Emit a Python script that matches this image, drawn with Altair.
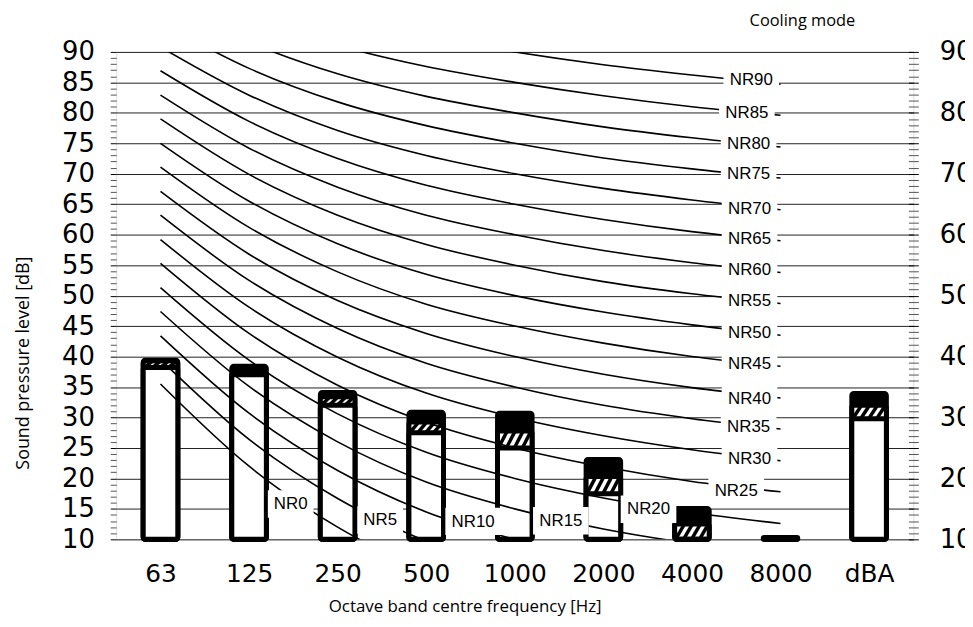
import json
import altair as alt
import pandas as pd

# ---------------- data ----------------
bands = ["63", "125", "250", "500", "1000", "2000", "4000", "8000", "dBA"]
level_max = [39.4, 38.4, 34.1, 30.85, 30.7, 23.1, 15.05, 10.3, 33.95]
level_mid = [39.3, 37.4, 33.4, 29.25, 27.8, 20.3, 12.5, 10.0, 32.0]
level_min = [38.2, 37.0, 32.0, 27.5, 25.0, 17.5, 10.0, 10.0, 29.8]

# NR curves over the octave bands 63 ... 8000 Hz
NR0 = [35.5, 22.0, 12.0, 4.8, 0.0, -3.5, -6.1, -8.0]
NR5 = [39.5, 26.4, 16.7, 9.7, 5.0, 1.6, -1.0, -2.9]
NR10 = [43.4, 30.7, 21.3, 14.5, 10.0, 6.7, 4.2, 2.3]
NR15 = [47.4, 35.1, 26.0, 19.4, 15.0, 11.7, 9.3, 7.5]
NR20 = [51.3, 39.4, 30.6, 24.3, 20.0, 16.8, 14.4, 12.6]
NR25 = [55.3, 43.8, 35.3, 29.2, 25.0, 21.9, 19.5, 17.8]
NR30 = [59.2, 48.1, 39.9, 34.0, 30.0, 27.0, 24.7, 22.9]
NR35 = [63.2, 52.5, 44.6, 38.9, 35.0, 32.0, 29.8, 28.1]
NR40 = [67.1, 56.8, 49.2, 43.8, 40.0, 37.1, 34.9, 33.2]
NR45 = [71.1, 61.2, 53.9, 48.6, 45.0, 42.2, 40.0, 38.4]
NR50 = [75.0, 65.5, 58.5, 53.5, 50.0, 47.3, 45.2, 43.5]
NR55 = [79.0, 69.9, 63.2, 58.4, 55.0, 52.3, 50.3, 48.7]
NR60 = [82.9, 74.2, 67.8, 63.2, 60.0, 57.4, 55.4, 53.8]
NR65 = [86.9, 78.6, 72.5, 68.1, 65.0, 62.5, 60.5, 59.0]
NR70 = [90.8, 82.9, 77.1, 73.0, 70.0, 67.6, 65.7, 64.1]
NR75 = [94.8, 87.3, 81.8, 77.9, 75.0, 72.6, 70.8, 69.3]
NR80 = [98.7, 91.6, 86.4, 82.7, 80.0, 77.7, 75.9, 74.4]
NR85 = [102.7, 96.0, 91.1, 87.6, 85.0, 82.8, 81.0, 79.6]
NR90 = [106.6, 100.3, 95.7, 92.5, 90.0, 87.9, 86.2, 84.7]

nr_names = ["NR0", "NR5", "NR10", "NR15", "NR20", "NR25", "NR30", "NR35", "NR40",
            "NR45", "NR50", "NR55", "NR60", "NR65", "NR70", "NR75", "NR80", "NR85", "NR90"]
nr_curves = [NR0, NR5, NR10, NR15, NR20, NR25, NR30, NR35, NR40, NR45,
             NR50, NR55, NR60, NR65, NR70, NR75, NR80, NR85, NR90]

# label anchors (band position, dB)
label_pos = [1.47, 2.48, 3.53, 4.52, 5.51, 6.50, 6.65, 6.64, 6.65, 6.65,
             6.65, 6.65, 6.65, 6.65, 6.65, 6.64, 6.64, 6.62, 6.67]
label_db = [15.75, 13.1, 12.9, 13.0, 14.9, 18.0, 23.1, 28.4, 33.0, 38.7,
            43.9, 49.1, 54.2, 59.3, 64.2, 69.9, 74.8, 79.95, 85.4]

# ---------------- tables ----------------
df_bars = pd.DataFrame({"band": bands, "idx": list(range(len(bands))),
                        "top": level_max, "mid": level_mid, "low": level_min})

rows = []
for name, vals in zip(nr_names, nr_curves):
    for i, v in enumerate(vals):
        rows.append({"nr": name, "idx": i, "level": v})
df_nr = pd.DataFrame(rows)

df_lab = pd.DataFrame({"name": nr_names, "pos": label_pos, "db": label_db})

hatch_offsets = [-0.135, -0.045, 0.045, 0.135]
hrows = []
for i, (m, lo) in enumerate(zip(level_mid, level_min)):
    if m - lo >= 0.5:
        for k in hatch_offsets:
            hrows.append({"hx0": i + k - 0.05, "hx1": i + k + 0.05, "hy0": lo, "hy1": m})
df_hatch = pd.DataFrame(hrows)

# ---------------- scales / axes ----------------
x_scale = alt.Scale(domain=[-0.5, len(bands) - 0.5], nice=False, zero=False)
y_scale = alt.Scale(domain=[10, 90], nice=False, zero=False)

major5 = "datum.value % 5 === 0"

x_axis = alt.Axis(
    values=list(range(len(bands))),
    labelExpr=json.dumps(bands) + "[datum.value]",
    title="Octave band centre frequency [Hz]",
    ticks=False, tickSize=0, domain=False, grid=False,
    labelFont="DejaVu Sans", labelFontSize=25, labelColor="black",
    labelPadding=22, labelFlush=False, labelOverlap=False,
    titleFont="Open Sans", titleFontSize=17, titleFontWeight="normal",
    titleColor="black", titleX=351, titleY=68, titleBaseline="middle",
    titleAlign="center",
)

left_axis = alt.Axis(
    orient="left",
    values=list(range(10, 91)),
    labelExpr="datum.value % 5 === 0 ? datum.label : ''",
    title="Sound pressure level [dB]",
    grid=True, gridColor="#222222", gridWidth=1,
    gridOpacity={"condition": {"test": major5, "value": 1}, "value": 0},
    domain=False, tickSize=6, tickWidth=1,
    tickColor={"condition": {"test": major5, "value": "black"}, "value": "#555555"},
    labelFont="DejaVu Sans", labelFontSize=26, labelColor="black",
    labelPadding=16, labelOverlap=False, labelFlush=False,
    titleFont="Open Sans", titleFontSize=18, titleFontWeight="normal",
    titleColor="black", titleX=-93, titleY=313, titleAlign="center",
    titleBaseline="middle", titleAngle=270,
)

right_axis = alt.Axis(
    orient="right",
    values=list(range(10, 91)),
    labelExpr="datum.value % 10 === 0 ? datum.label : ''",
    title=None, grid=False, domain=False, offset=-5, tickSize=10, tickWidth=1,
    tickColor={"condition": {"test": major5, "value": "black"}, "value": "#555555"},
    labelFont="DejaVu Sans", labelFontSize=26, labelColor="black",
    labelPadding=21, labelOverlap=False, labelFlush=False,
)

base_bars = alt.Chart(df_bars).transform_calculate(
    x0="datum.idx - 0.195", x1="datum.idx + 0.195"
)

bars_top = base_bars.mark_rect(fill="black", stroke="black", strokeWidth=5,
                               cornerRadius=2).encode(
    x=alt.X("x0:Q", scale=x_scale, axis=x_axis),
    x2="x1:Q",
    y=alt.Y("top:Q", scale=y_scale, axis=left_axis),
    y2=alt.datum(10),
)

bars_mid = base_bars.mark_rect(fill="white", stroke="black", strokeWidth=5,
                               cornerRadius=2).encode(
    x=alt.X("x0:Q", scale=x_scale, axis=x_axis),
    x2="x1:Q",
    y=alt.Y("mid:Q", scale=y_scale, axis=None),
    y2=alt.datum(10),
)

hatch = alt.Chart(df_hatch).mark_rule(color="black", strokeWidth=3.5).encode(
    x=alt.X("hx0:Q", scale=x_scale, axis=x_axis),
    x2="hx1:Q",
    y=alt.Y("hy0:Q", scale=y_scale, axis=None),
    y2="hy1:Q",
)

bars_low = base_bars.mark_rect(fill="white", stroke="black", strokeWidth=5,
                               cornerRadius=2).encode(
    x=alt.X("x0:Q", scale=x_scale, axis=x_axis),
    x2="x1:Q",
    y=alt.Y("low:Q", scale=y_scale, axis=None),
    y2=alt.datum(10),
)

curves = alt.Chart(df_nr).mark_line(clip=True, color="black", strokeWidth=1.6,
                                    interpolate="monotone").encode(
    x=alt.X("idx:Q", scale=x_scale, axis=x_axis),
    y=alt.Y("level:Q", scale=y_scale, axis=right_axis),
    detail="nr:N",
)

boxes = alt.Chart(df_lab).transform_calculate(
    hw="length(datum.name) > 3 ? 0.314 : 0.258"
).transform_calculate(
    bx0="datum.pos - datum.hw", bx1="datum.pos + datum.hw",
    by0="datum.db - 2.2", by1="datum.db + 2.3",
).mark_rect(color="white").encode(
    x=alt.X("bx0:Q", scale=x_scale, axis=x_axis),
    x2="bx1:Q",
    y=alt.Y("by0:Q", scale=y_scale, axis=None),
    y2="by1:Q",
)

labels = alt.Chart(df_lab).mark_text(font="Liberation Sans", fontSize=17,
                                     color="black", align="center",
                                     baseline="middle").encode(
    x=alt.X("pos:Q", scale=x_scale, axis=x_axis),
    y=alt.Y("db:Q", scale=y_scale, axis=None),
    text="name:N",
)

chart = alt.layer(
    bars_top, bars_mid, hatch, bars_low, curves, boxes, labels
).resolve_scale(y="independent").properties(
    width=803, height=491,
    padding={"left": 109, "top": 42, "right": 52, "bottom": 78},
    autosize="none",
    title=alt.TitleParams("Cooling mode", anchor="start", frame="group", dx=638,
                          font="Open Sans", fontSize=16.5, fontWeight="normal",
                          color="black", offset=10),
).configure_view(stroke="black", strokeWidth=1).configure(background="white")

chart.save("out.html", embed_options={"renderer": "svg", "actions": False})
